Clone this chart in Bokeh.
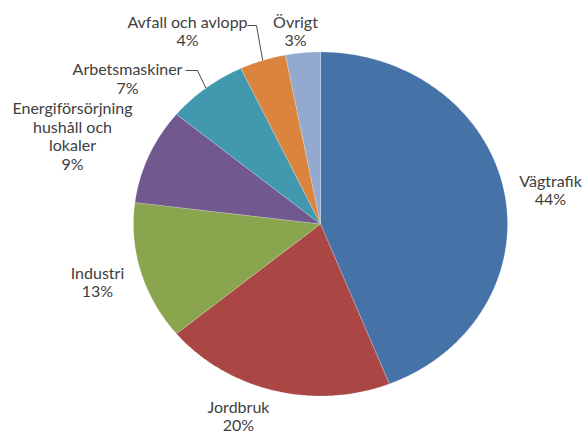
import math
from bokeh.plotting import figure
from bokeh.models import Range1d, ColumnDataSource
from bokeh.core.properties import value
from bokeh.embed import file_html
from bokeh.resources import INLINE

categories = ["Vägtrafik", "Jordbruk", "Industri", "Energiförsörjning\nhushåll och\nlokaler",
              "Arbetsmaskiner", "Avfall och avlopp", "Övrigt"]
values = [44, 20, 13, 9, 7, 4, 3]
colors = ["#4572A7", "#AA4643", "#89A54E", "#71588F", "#4198AF", "#DB843D", "#93A9CF"]

# layout (pixel space of the picture)
CX, CY, RX, RY = 320, 223.5, 187, 172
label_pos = [(550, 189), (238, 415), (97, 281), (72, 135), (127, 77.5), (187, 30), (295, 30)]

W, H = 585, 434
p = figure(width=W, height=H, output_backend="svg", toolbar_location=None,
           x_range=Range1d(0, W), y_range=Range1d(H, 0), min_border=0)
p.axis.visible = False
p.grid.visible = False
p.outline_line_color = None
p.background_fill_color = "white"

total = sum(values)
xs, ys, mids = [], [], []
cum = 0.0
for v in values:
    a0 = cum / total * 2 * math.pi
    cum += v
    a1 = cum / total * 2 * math.pi
    n = max(int((a1 - a0) / 0.01), 4)
    px, py = [CX], [CY]
    for i in range(n + 1):
        t = a0 + (a1 - a0) * i / n
        px.append(CX + RX * math.sin(t))
        py.append(CY - RY * math.cos(t))
    xs.append(px)
    ys.append(py)
    mids.append((a0 + a1) / 2)

p.patches(xs=xs, ys=ys, fill_color=colors, line_color="white", line_width=0.4, line_alpha=0.5)

def edge(t):
    return CX + RX * math.sin(t), CY - RY * math.cos(t)

ex, ey = edge(mids[5])
p.line([247, 256, ex], [25, 25, ey], line_color="#4d4d4d", line_width=1)
ex, ey = edge(mids[4])
p.line([185, 197, ex], [70, 70, ey], line_color="#4d4d4d", line_width=1)

texts = [f"{c}\n{v}%" for c, v in zip(categories, values)]
src = ColumnDataSource(dict(x=[lp[0] for lp in label_pos], y=[lp[1] for lp in label_pos], t=texts))
p.text(x="x", y="y", text="t", source=src, text_align="center", text_baseline="middle",
       text_font=value("Lato"), text_font_size="16px", text_color="#404040", text_line_height=0.98)

open("out.html", "w").write(file_html(p, INLINE))
